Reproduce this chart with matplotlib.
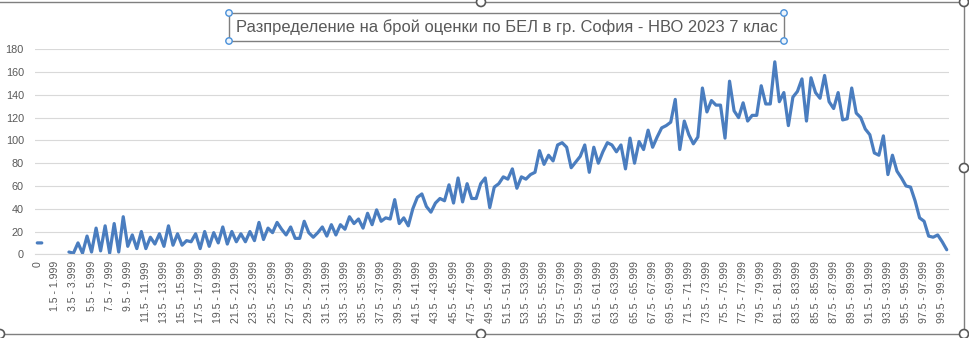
import numpy as np
import matplotlib
matplotlib.use("Agg")
import matplotlib.pyplot as plt
from matplotlib.patches import Rectangle, Circle

plt.rcParams['font.family'] = ['Liberation Sans', 'DejaVu Sans']

nan = np.nan

title = 'Разпределение на брой оценки по БЕЛ в гр. София - НВО 2023 7 клас'

# score bins: "0", half-point bins up to 99.5 - 99.999, then "100"
lows = np.arange(0, 100, 0.5)
categories = ['0'] + [f'{lo:g} - {lo + 0.499:g}' for lo in lows] + ['100']

# number of students in each bin
counts = [
    10, 10, nan, nan, nan, nan, nan, 2, 1, 10,
    1, 16, 2, 23, 3, 25, 1, 27, 2, 33,
    7, 17, 5, 20, 5, 15, 9, 18, 7, 25,
    8, 18, 8, 12, 11, 18, 5, 20, 7, 19,
    10, 24, 9, 20, 11, 18, 11, 20, 12, 28,
    13, 23, 19, 28, 22, 17, 24, 14, 14, 29,
    19, 15, 19, 24, 16, 26, 17, 26, 22, 33,
    27, 31, 23, 36, 26, 39, 29, 32, 31, 48,
    27, 32, 25, 40, 50, 53, 42, 37, 45, 49,
    47, 61, 45, 67, 46, 62, 49, 49, 62, 67,
    41, 59, 62, 68, 66, 75, 58, 68, 66, 70,
    72, 91, 79, 87, 82, 96, 98, 94, 76, 81,
    86, 96, 72, 94, 80, 90, 98, 96, 90, 96,
    75, 102, 80, 99, 92, 109, 94, 103, 111, 113,
    116, 136, 92, 117, 105, 97, 103, 146, 125, 135,
    131, 131, 102, 152, 126, 120, 133, 117, 122, 122,
    148, 132, 132, 169, 134, 142, 113, 138, 143, 154,
    117, 155, 142, 137, 157, 134, 128, 142, 118, 119,
    146, 124, 120, 110, 105, 89, 87, 104, 70, 87,
    73, 67, 60, 59, 47, 32, 29, 16, 15, 17,
    11, 4,
]

W, H = 969, 338
fig = plt.figure(figsize=(W / 100, H / 100), dpi=100)

ax = fig.add_axes([35 / W, 1 - 254.3 / H, (949 - 35) / W, (254.3 - 49.3) / H])
x = np.arange(len(categories))
ax.plot(x, counts, color='#4a7dbf', lw=2.3,
        solid_joinstyle='round', solid_capstyle='round')

ax.set_xlim(-0.5, len(categories) - 0.5)
ax.set_ylim(0, 180)
ax.set_yticks(np.arange(0, 181, 20))
ax.yaxis.grid(True, color='#d9d9d9', lw=0.8)
ax.set_axisbelow(True)
for s in ['top', 'right', 'left']:
    ax.spines[s].set_visible(False)
ax.spines['bottom'].set_color('#d9d9d9')
ax.spines['bottom'].set_linewidth(0.8)

ax.set_xticks(x[::4])
ax.set_xticklabels(categories[::4], rotation=90, fontsize=7.6, color='#595959')
ax.tick_params(axis='x', length=0, pad=5)
ax.tick_params(axis='y', length=0, pad=8, labelsize=7.8, labelcolor='#595959')

# overlay in pixel units for the title box and the selection frame
ov = fig.add_axes([0, 0, 1, 1])
ov.set_xlim(0, W)
ov.set_ylim(H, 0)
ov.axis('off')

ov.add_patch(Rectangle((229, 13), 555, 28, fill=False, ec='#7f7f7f', lw=1))
ov.text(506.5, 27.5, title, ha='center', va='center', fontsize=11.9, color='#595959')
for hx, hy in [(229, 13), (784, 13), (229, 41), (784, 41)]:
    ov.add_patch(Circle((hx, hy), 3.2, fc='#eef5fc', ec='#4a90d9', lw=1, zorder=5))

ov.plot([0, 964], [2, 2], color='#7f7f7f', lw=1)
ov.plot([964, 964], [2, 334], color='#7f7f7f', lw=1)
ov.plot([0, 964], [334, 334], color='#7f7f7f', lw=1)
for hx, hy in [(481, 2), (964, 2), (964, 168),
               (0, 334), (481, 334), (964, 334)]:
    ov.add_patch(Circle((hx, hy), 4.5, fc='white', ec='#595959', lw=1.2, zorder=5))

fig.savefig('out.png', dpi=100)
